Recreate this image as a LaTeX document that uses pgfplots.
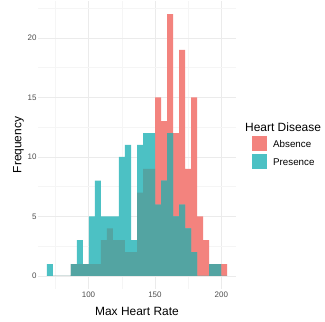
\documentclass[border=0pt]{standalone}
\usepackage{pgfplots}
\pgfplotsset{compat=1.18}
\usepackage{pgfplotstable}
\usepackage{fontspec}
\setmainfont{Liberation Sans}

% fill colours: each group alone, and where both groups overlap
\definecolor{absence}{HTML}{F3837E}
\definecolor{presence}{HTML}{4CC1C4}
\definecolor{overlap}{HTML}{53A4A2}
\definecolor{gridmajor}{HTML}{EBEBEB}
\definecolor{gridminor}{HTML}{F5F5F5}
\definecolor{ticktext}{HTML}{4D4D4D}

% histogram of max heart rate: left bin edge, counts per group and their
% common part (30 bins of width 131/29; the last row closes the interval)
\pgfplotstableread{
edge absence presence both
68.7414 0 1 0
73.2586 0 0 0
77.7759 0 0 0
82.2931 0 0 0
86.8103 1 1 1
91.3276 1 3 1
95.8448 1 1 1
100.3621 1 5 1
104.8793 1 8 1
109.3966 3 5 3
113.9138 4 5 4
118.4310 3 5 3
122.9483 3 10 3
127.4655 2 11 2
131.9828 2 3 2
136.5000 7 11 7
141.0172 9 12 9
145.5345 9 12 9
150.0517 15 6 6
154.5690 13 8 8
159.0862 22 12 12
163.6034 12 5 5
168.1207 19 6 6
172.6379 9 4 4
177.1552 15 2 2
181.6724 5 0 0
186.1897 3 0 0
190.7069 1 1 1
195.2241 1 1 1
199.7414 1 0 0
204.2586 1 0 0
}\hist

\begin{document}
\begin{tikzpicture}
\path[use as bounding box] (0,0) rectangle (325bp,322bp);
\begin{axis}[
  at={(38bp,33bp)}, anchor=south west,
  scale only axis, width=198bp, height=288bp,
  xmin=61.97, xmax=211.03, ymin=-1.1, ymax=23.1,
  axis line style={draw=none},
  tick style={draw=none},
  xtick={100,150,200}, ytick={0,5,10,15,20},
  minor xtick={75,125,175}, minor ytick={2.5,7.5,12.5,17.5,22.5},
  grid=both,
  major grid style={gridmajor, line width=0.6pt},
  minor grid style={gridminor, line width=0.35pt},
  ticklabel style={font=\fontsize{8}{9}\selectfont, text=ticktext},
  /pgf/number format/assume math mode=true,
  xlabel={Max Heart Rate}, ylabel={Frequency},
  label style={font=\fontsize{12}{14}\selectfont},
  xlabel style={yshift=-3bp},
  ylabel style={yshift=-3bp},
  xticklabel style={yshift=1bp},
  yticklabel style={xshift=2bp},
  clip=false,
]
\addplot[ybar interval, draw=none, fill=absence] table[x=edge, y=absence] {\hist};
\addplot[ybar interval, draw=none, fill=presence] table[x=edge, y=presence] {\hist};
\addplot[ybar interval, draw=none, fill=overlap] table[x=edge, y=both] {\hist};
\end{axis}
% legend
\node[anchor=west, inner sep=0pt, font=\fontsize{12}{14}\selectfont] at (245bp,195bp) {Heart Disease};
\fill[absence] (251.5bp,170.5bp) rectangle (266.5bp,185.5bp);
\fill[presence] (251.5bp,152.5bp) rectangle (266.5bp,167.5bp);
\node[anchor=west, inner sep=0pt, font=\fontsize{9.8}{11}\selectfont] at (273bp,178bp) {Absence};
\node[anchor=west, inner sep=0pt, font=\fontsize{9.8}{11}\selectfont] at (273bp,160bp) {Presence};
\end{tikzpicture}
\end{document}
